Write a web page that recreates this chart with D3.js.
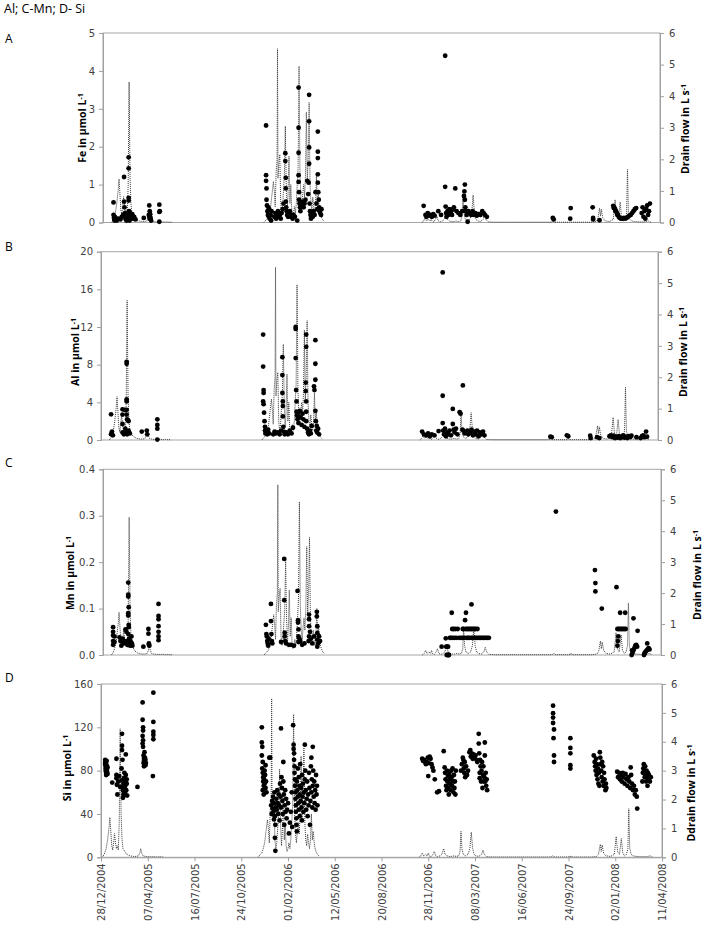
<!DOCTYPE html>
<html>
<head>
<meta charset="utf-8">
<script src="https://cdn.jsdelivr.net/npm/d3@7"></script>
<style>
  body { margin: 0; background: #fff; }
  svg { display: block; }
  .tick text { font-family: "DejaVu Sans", Verdana, sans-serif; font-size: 10px; fill: #404040; }
  .axis path, .axis line { stroke: #a0a0a0; }
  .ylab { font-family: "Open Sans", sans-serif; font-weight: bold; font-size: 10.5px; fill: #000; }
  .letter { font-family: "Open Sans", sans-serif; font-size: 12px; fill: #000; }
</style>
</head>
<body>
<script>
// days counted from 28/12/2004
const feData = [
  [7,0.53],[7,0.2],[8,0.12],[9,0.05],[10,0.15],[10,0.08],[12,0.1],[14,0.05],[18,0.1],[22,0.08],[25,0.15],[28,0.2],
  [30,1.2],[30,0.55],[31,0.4],[32,0.25],[33,0.1],[35,0.05],[36,0.2],[38,0.1],[40,1.72],[40,1.43],[40,0.65],[40,0.58],
  [41,0.3],[41,0.15],[42,0.05],[43,0.25],[44,0.2],[45,0.1],[46,0.15],[48,0.22],[50,0.1],[52,0.15],[55,0.08],
  [73,0.12],[84,0.2],[85,0.45],[85,0.15],[86,0.3],[86,0.1],[87,0.22],[88,0.12],[89,0.05],[107,0.47],[107,0.28],[107,0.02],[108,0.3],
  [340,2.56],[340,1.25],[340,1.1],[341,0.9],[341,0.6],[342,0.45],[343,0.3],[344,0.2],[345,0.4],[346,0.15],[347,0.35],[348,0.1],
  [350,0.2],[351,0.05],[352,0.3],[358,0.15],[360,0.25],[362,0.1],[364,0.2],[366,0.3],[368,0.15],[370,0.2],[372,0.1],[374,0.25],
  [376,0.35],[378,0.5],[382,1.83],[382,1.62],[383,1.18],[383,0.9],[383,0.55],[384,0.4],[385,0.3],[386,0.2],[388,0.15],[390,0.25],
  [392,0.3],[394,0.15],[396,0.2],[398,0.1],[400,0.2],[403,0.15],[408,0.05],[411,3.56],[411,2.5],[411,1.84],[411,1.25],[411,1.07],
  [412,0.8],[412,0.6],[413,0.5],[414,0.4],[415,0.3],[416,0.45],[418,0.5],[420,0.55],[422,0.4],[424,0.5],[426,0.6],[430,1.1],
  [432,0.75],[434,3.37],[434,2.67],[434,1.98],[434,1.55],[433,1.05],[435,0.5],[436,0.3],[437,0.2],[438,0.1],[440,0.25],[442,0.15],
  [444,0.3],[446,0.2],[448,0.8],[450,0.5],[452,0.35],[453,2.4],[453,1.87],[453,1.7],[453,1.27],[453,1.05],[454,0.8],[455,0.6],
  [456,0.4],[457,0.3],[458,0.25],[460,0.2],[461,0.35],
  [684,0.44],[688,0.2],[690,0.15],[693,0.25],[696,0.18],[699,0.2],[702,0.15],[705,0.22],[708,0.18],[716,0.3],[722,0.2],
  [731,4.4],[731,0.94],[732,0.42],[733,0.25],[734,0.15],[736,0.3],[738,0.2],[740,0.35],[742,0.25],[744,0.3],[746,0.2],[748,0.35],
  [750,0.4],[753,0.9],[756,0.3],[760,0.25],[764,0.2],[768,0.3],[772,0.7],[773,0.82],[774,1.0],[774,0.6],[775,0.4],[776,0.3],
  [778,0.2],[780,0.02],[782,0.3],[785,0.25],[788,0.2],[791,0.3],[794,0.2],[797,0.25],[800,0.18],[804,0.22],[808,0.2],[812,0.3],
  [815,0.25],[818,0.2],[822,0.15],
  [966,0.12],[968,0.08],[1004,0.1],[1005,0.38],[1053,0.4],[1054,0.12],[1054,0.08],[1068,0.06],
  [1098,0.44],[1099,0.38],[1100,0.4],[1102,0.35],[1103,0.3],[1104,0.3],[1106,0.25],[1107,0.2],[1108,0.2],[1110,0.15],[1112,0.12],
  [1115,0.1],[1118,0.1],[1121,0.12],[1124,0.1],[1127,0.12],[1130,0.15],[1133,0.18],[1136,0.2],[1139,0.25],[1142,0.3],[1145,0.35],
  [1148,0.38],[1160,0.25],[1162,0.4],[1164,0.15],[1166,0.3],[1168,0.1],[1170,0.35],[1172,0.45],[1174,0.2],[1176,0.3],[1178,0.5]
];

const alData = [
  [6,2.73],[7,0.7],[8,0.9],[6,0.6],[10,0.5],[31,3.26],[31,2.7],[31,1.7],[31,0.8],[34,0.6],[36,3.2],[37,1.2],[38,0.7],
  [40,8.3],[40,8.1],[40,4.3],[40,4.1],[40,3.2],[40,2.7],[41,2.2],[40,0.9],[41,0.6],[43,2.1],[44,2.0],[44,1.0],[45,0.8],[47,0.7],
  [73,0.9],[84,1.0],[85,0.6],[107,2.2],[107,1.6],[107,1.2],[107,0.05],
  [338,11.2],[338,7.8],[339,5.3],[339,5.0],[338,4.1],[339,3.8],[340,2.9],[341,2.0],[342,1.4],[342,1.0],[343,0.7],[345,0.8],
  [347,0.6],[349,1.1],[351,0.7],[360,0.6],[363,0.9],[366,0.7],[370,0.8],[374,0.6],[377,1.0],
  [380,8.8],[380,6.9],[380,5.0],[381,4.1],[381,3.6],[381,2.5],[382,1.4],[383,0.9],[385,0.6],[388,0.8],[392,0.6],[396,1.0],
  [400,0.7],[403,1.3],[409,12.0],[409,11.8],[409,8.7],[410,5.3],[411,4.1],[411,3.0],[412,2.6],[413,2.2],[414,2.9],[415,1.8],
  [416,2.5],[418,3.1],[420,2.4],[422,1.6],[424,2.8],[426,2.2],[428,1.4],[432,11.2],[432,9.9],[431,6.1],[431,5.2],[432,4.1],
  [432,3.0],[432,2.0],[434,1.2],[436,0.8],[438,0.6],[440,1.0],[442,0.7],[444,1.5],[449,5.7],[450,5.3],[452,10.6],[452,8.1],
  [452,6.4],[452,3.1],[453,2.0],[454,1.0],[455,1.5],[456,0.8],[458,1.2],[460,0.6],
  [685,0.9],[689,0.6],[694,0.5],[698,0.7],[702,0.4],[706,0.6],[712,0.5],[721,0.95],[730,17.8],[730,4.7],[730,1.8],[731,1.0],
  [733,0.6],[735,1.2],[737,0.4],[740,0.8],[742,0.6],[745,1.0],[748,0.5],[752,3.3],[752,1.7],[754,1.1],[756,0.8],[759,1.2],
  [762,0.6],[767,2.95],[769,2.8],[774,5.8],[773,1.1],[775,1.0],[778,0.7],[784,1.0],[786,0.6],[790,0.8],[793,1.1],[796,0.5],
  [799,0.9],[802,0.6],[805,1.0],[808,0.4],[811,0.8],[814,0.6],[818,0.9],[821,0.5],
  [965,0.35],[968,0.3],[1001,0.5],[1004,0.4],[1052,0.45],[1053,0.2],[1067,0.3],[1072,0.2],[1094,0.4],[1097,0.5],[1100,0.3],
  [1103,0.45],[1106,0.2],[1109,0.35],[1112,0.25],[1115,0.4],[1118,0.2],[1121,0.3],[1124,0.5],[1127,0.25],[1130,0.35],[1133,0.2],
  [1136,0.4],[1139,0.3],[1142,0.45],[1153,0.3],[1162,0.2],[1165,0.4],[1168,0.5],[1171,0.3],[1174,0.9],[1176,0.35]
];

const mnData = [
  [6,0.06],[6,0.05],[6,0.042],[6,0.03],[6,0.022],[9,0.04],[9,0.028],[20,0.038],[22,0.03],[24,0.02],[27,0.035],[29,0.025],
  [31,0.03],[33,0.055],[35,0.05],[36,0.03],[37,0.022],[39,0.156],[39,0.13],[39,0.126],[40,0.103],[39,0.09],[39,0.085],[40,0.065],
  [40,0.06],[39,0.045],[41,0.035],[42,0.025],[43,0.02],[44,0.03],[46,0.04],[47,0.025],[48,0.02],
  [72,0.018],[83,0.056],[83,0.046],[84,0.025],[84,0.022],[85,0.02],[105,0.11],[105,0.084],[105,0.077],[105,0.062],[105,0.05],
  [105,0.04],[105,0.032],
  [339,0.065],[340,0.045],[341,0.04],[342,0.03],[343,0.025],[344,0.02],[345,0.035],[350,0.11],[350,0.073],[351,0.045],[352,0.03],
  [353,0.025],[372,0.028],[379,0.207],[379,0.118],[380,0.048],[380,0.04],[381,0.03],[383,0.025],[389,0.022],[394,0.022],[400,0.02],
  [408,0.138],[409,0.075],[409,0.07],[410,0.055],[410,0.04],[410,0.028],[412,0.035],[414,0.03],[418,0.022],[423,0.025],[433,0.087],
  [433,0.077],[433,0.062],[433,0.04],[432,0.03],[435,0.05],[437,0.035],[440,0.025],[444,0.04],[450,0.093],[450,0.083],[451,0.062],
  [451,0.047],[451,0.033],[451,0.018],[453,0.025],[455,0.04],[457,0.03],
  [722,0.018],[731,0.036],[732,0.018],[733,0],[734,0.018],[735,0],[736,0.018],[737,0],[738,0],[740,0.037],[742,0.037],[744,0.091],
  [745,0.056],[746,0.037],[748,0.056],[750,0.037],[752,0.056],[754,0.037],[757,0.056],[760,0.037],[764,0.037],[768,0.056],[768,0.037],
  [770,0.056],[771,0.037],[773,0.075],[775,0.091],[775,0.056],[776,0.037],[778,0.056],[779,0.037],[781,0.056],[782,0.037],[784,0.056],
  [786,0.037],[787,0.109],[787,0.056],[789,0.037],[790,0.056],[792,0.037],[793,0.056],[795,0.037],[796,0.056],[798,0.037],[800,0.056],
  [801,0.037],[804,0.037],[807,0.037],[810,0.037],[813,0.037],[816,0.037],[819,0.037],[822,0.037],[825,0.037],
  [971,0.309],[1056,0.183],[1057,0.155],[1057,0.137],[1071,0.1],[1103,0.146],[1105,0.056],[1108,0.056],[1111,0.091],[1111,0.056],
  [1114,0.056],[1117,0.056],[1120,0.056],[1122,0.091],[1123,0.056],[1107,0.04],[1106,0.03],[1105,0.02],[1140,0.079],[1149,0.052],
  [1136,0.0],[1138,0.005],[1140,0.01],[1142,0.015],[1144,0.02],[1146,0.022],[1148,0.018],[1137,0.01],[1170,0.025],[1163,0.0],
  [1165,0.005],[1167,0.008],[1169,0.01],[1171,0.012],[1173,0.015],[1175,0.012],[1164,0.003]
];

const siData = [
  [9,90],[9,88],[9,86],[10,84],[10,82],[10,80],[11,78],[11,76],[12,89],[12,85],[12,81],[13,79],[14,83],[14,77],
  [24,69],[33,91],[33,76],[33,73],[34,67],[35,58],[37,70],[39,75],[41,65],
  [45,114],[45,103],[45,99],[46,90],[44,82],[45,71],[46,65],[47,62],[48,58],[47,55],[48,68],[49,73],[50,64],[50,78],[51,60],
  [52,66],[53,95],[53,76],[53,70],[52,58],[54,62],[55,68],[55,72],[56,57],[78,65],
  [89,143],[89,127],[90,120],[90,108],[90,102],[89,105],[91,94],[92,91],[91,87],[92,84],[92,89],[93,86],[94,92],[94,88],[95,85],
  [95,90],[96,87],[93,97],[90,117],[89,112],[112,152],[112,125],[112,116],[112,113],[112,109],[111,75],
  [344,120],[344,106],[345,102],[344,94],[346,88],[345,82],[346,78],[347,74],[347,70],[348,66],[346,62],[348,58],[349,72],[350,80],
  [350,68],[351,76],[352,64],[353,70],[354,60],[352,85],[360,92],[362,92],[364,48],[365,40],[366,52],[367,45],[368,56],[369,42],
  [370,35],[370,50],[371,60],[372,38],[372,18],[373,6],[373,30],[374,46],[375,54],[376,44],[377,62],[378,50],[379,40],[380,58],
  [381,48],[382,34],[383,68],[384,56],[385,119],[385,46],[386,74],[387,64],[388,52],[389,40],[390,88],[390,70],[391,58],[392,30],
  [393,48],[394,62],[395,42],[396,54],[397,36],[398,44],[400,50],[402,22],[404,32],[406,42],[408,60],[409,28],
  [411,122],[412,104],[412,100],[413,96],[413,90],[414,84],[414,78],[415,72],[415,66],[416,60],[416,54],[417,48],[417,42],[418,36],
  [418,30],[419,24],[419,70],[420,62],[421,82],[421,56],[422,50],[423,74],[423,44],[424,66],[425,38],[425,58],[426,86],[427,52],
  [428,64],[429,46],[430,76],[430,34],[431,56],[432,68],[433,42],[434,60],[435,50],[436,104],[436,72],[437,80],[438,62],[439,44],
  [440,54],[441,70],[442,38],[443,58],[444,48],[445,78],[446,64],[447,30],[448,52],[449,84],[450,92],[450,60],[451,72],[452,46],
  [453,102],[453,66],[454,80],[455,56],[456,70],[457,50],[458,62],[459,44],[460,76],[461,58],[462,66],[463,48],
  [687,91],[689,89],[691,90],[693,88],[695,86],[697,88],[699,92],[701,87],[703,93],[705,91],[707,86],[709,83],[711,80],[700,75],
  [714,72],[719,60],[723,61],[733,98],[735,83],[736,78],[737,72],[738,66],[739,62],[740,80],[741,70],[742,75],[743,64],[744,58],
  [745,77],[746,68],[747,72],[748,62],[749,80],[750,74],[751,66],[752,82],[753,70],[754,60],[755,76],[756,64],[757,70],[758,58],
  [759,80],[770,80],[772,86],[774,92],[775,90],[776,82],[777,78],[778,88],[779,74],[781,84],[783,76],[785,80],[788,97],[790,99],
  [791,93],[793,96],[795,91],[797,95],[799,92],[801,94],[803,90],[805,88],[808,114],[808,105],[809,96],[810,78],[810,73],[811,90],
  [812,84],[813,70],[814,80],[815,88],[816,64],[817,76],[818,84],[819,70],[820,74],[821,106],[821,94],[822,70],[823,78],[824,66],
  [825,72],[826,62],
  [967,140],[967,133],[967,129],[967,124],[969,118],[968,110],[969,94],[969,88],[1004,110],[1004,101],[1004,96],[1004,85],[1004,82],
  [1054,94],[1056,88],[1057,84],[1058,80],[1059,91],[1060,76],[1061,86],[1062,72],[1063,82],[1064,68],[1065,78],[1066,66],[1067,97],
  [1068,92],[1069,86],[1070,80],[1071,74],[1072,88],[1073,70],[1074,84],[1075,66],[1076,78],[1077,72],[1079,62],[1080,68],[1081,64],
  [1104,79],[1106,74],[1108,78],[1110,72],[1112,76],[1114,70],[1116,78],[1118,74],[1120,68],[1122,77],[1124,72],[1126,66],[1128,74],
  [1130,70],[1132,64],[1133,83],[1134,76],[1136,68],[1138,62],[1140,66],[1142,58],[1144,62],[1146,56],[1147,45],
  [1158,70],[1159,78],[1160,82],[1161,86],[1162,80],[1163,74],[1164,84],[1165,76],[1166,70],[1167,80],[1168,74],[1169,66],[1170,78],
  [1171,72],[1172,76],[1174,70],[1176,74]
];

// drain flow, L/s (null = no record)
const flowData = [
  [2,0],[5,0.05],[8,0.15],[11,0.3],[14,0.6],[17,1.0],[19,1.38],[21,0.9],[23,0.4],[25,0.25],[27,0.5],[29,0.82],[31,0.5],[33,0.3],
  [35,0.4],[37,0.25],[39,1.2],[41,4.45],[43,1.5],[45,0.6],[47,0.3],[49,0.25],[51,0.2],[54,0.12],[58,0.08],[62,0.05],[66,0.04],
  [70,0.03],[75,0.03],[80,0.05],[83,0.15],[85,0.3],[87,0.15],[90,0.05],[95,0.03],[100,0.02],[105,0.02],[110,0.02],[115,0.02],
  [120,0.01],[125,0.02],[130,0.01],[135,0.01],[136,null],
  [335,0],[338,0.05],[341,0.1],[344,0.15],[347,0.3],[350,0.5],[353,0.9],[356,1.3],[358,1.0],[360,0.5],[362,1.6],[364,2.0],[365,5.5],
  [366,1.4],[368,1.9],[370,2.15],[372,0.6],[374,0.3],[376,0.5],[378,1.0],[380,1.5],[382,3.05],[384,1.2],[386,0.4],[388,0.9],
  [390,2.1],[392,0.6],[394,1.2],[396,0.4],[398,0.2],[400,0.3],[402,0.5],[404,0.3],[406,0.6],[408,1.2],[410,1.8],[412,4.95],
  [414,1.57],[416,0.8],[418,0.5],[420,0.9],[422,1.2],[424,0.8],[426,1.5],[428,3.5],[430,1.3],[432,2.0],[434,3.8],[436,1.2],
  [438,0.6],[440,0.4],[442,0.8],[444,0.5],[446,0.3],[448,0.6],[450,1.5],[452,0.6],[454,0.9],[456,0.5],[458,0.3],[460,0.2],
  [463,0.1],[466,0.05],[467,null],
  [680,0],[684,0.05],[687,0.15],[690,0.05],[694,0.1],[698,0.05],[700,0.15],[702,0.05],[706,0.02],[710,0.1],[713,0.2],[716,0.05],
  [720,0.02],[725,0.05],[729,0.1],[733,0.3],[736,0.1],[740,0.05],[745,0.03],[750,0.03],[755,0.05],[760,0.03],[765,0.05],[768,0.2],
  [770,0.9],[772,0.3],[775,0.1],[780,0.05],[785,0.1],[789,0.3],[792,0.87],[795,0.3],[798,0.1],[802,0.05],[808,0.03],[814,0.1],
  [817,0.25],[820,0.1],[825,0.02],[835,0.01],[850,0.01],[870,0.01],[890,0.01],[910,0.01],[930,0.01],[950,0.01],[963,0.01],
  [966,0.06],[969,0.01],[985,0.01],[1003,0.01],[1004,0.06],[1006,0.01],[1030,0.01],[1050,0.01],[1060,0.03],[1064,0.1],[1068,0.45],
  [1070,0.2],[1072,0.42],[1075,0.15],[1080,0.05],[1090,0.03],[1098,0.1],[1102,0.72],[1105,0.2],[1109,0.1],[1113,0.65],[1116,0.15],
  [1120,0.05],[1124,0.1],[1127,0.3],[1129,1.68],[1131,0.3],[1134,0.1],[1138,0.05],[1145,0.03],[1155,0.02],[1165,0.02],[1175,0.05],
  [1180,0.01]
];

const feTicks = [0, 1, 2, 3, 4, 5];
const alTicks = [0, 4, 8, 12, 16, 20];
const mnTicks = [0, 0.1, 0.2, 0.3, 0.4];
const siTicks = [0, 40, 80, 120, 160];
const flowTicks = [0, 1, 2, 3, 4, 5, 6];
const dateTicks = ['28/12/2004', '07/04/2005', '16/07/2005', '24/10/2005', '01/02/2006', '12/05/2006', '20/08/2006',
  '28/11/2006', '08/03/2007', '16/06/2007', '24/09/2007', '02/01/2008', '11/04/2008'];

const parseDate = d3.utcParse('%d/%m/%Y');
const base = parseDate('28/12/2004');
const end = parseDate('11/04/2008');
const toDate = d => d3.utcDay.offset(base, d);

const panels = [
  {letter: 'A', data: feData, ticks: feTicks, fmt: d3.format('d'), name: 'Fe  in µmol L', flowName: 'Drain flow in L s',
   left: 103, right: 660, top: 33, bottom: 222.5, start: -16, letterY: 43, ylx: 82, yly: 128, yrx: 685, yry: 129},
  {letter: 'B', data: alData, ticks: alTicks, fmt: d3.format('d'), name: 'Al in µmol L', flowName: 'Drain flow in L s',
   left: 101, right: 658, top: 251.7, bottom: 440, start: -16, letterY: 251, ylx: 75, yly: 352, yrx: 683, yry: 352},
  {letter: 'C', data: mnData, ticks: mnTicks, fmt: d3.format('.1f'), name: 'Mn in µmol L', flowName: 'Drain flow in L s',
   left: 103, right: 661, top: 469.3, bottom: 655, start: -16, letterY: 467, ylx: 70, yly: 573, yrx: 697, yry: 575},
  {letter: 'D', data: siData, ticks: siTicks, fmt: d3.format('d'), name: 'Si  in µmol L', flowName: 'Ddrain flow in L s',
   left: 101, right: 662, top: 684, bottom: 857.3, start: 0, letterY: 682, ylx: 67, yly: 768, yrx: 691, yry: 793, dates: true}
];

const svg = d3.select('body').append('svg')
    .attr('width', 714)
    .attr('height', 930);

svg.append('text')
    .attr('class', 'letter')
    .attr('x', 4)
    .attr('y', 13)
    .style('font-size', '12.5px')
    .text('Al; C-Mn; D- Si');

const addLabel = (g, x, y, name) => {
    const t = g.append('text')
        .attr('class', 'ylab')
        .attr('transform', 'translate(' + x + ',' + y + ') rotate(-90)')
        .attr('text-anchor', 'middle')
        .attr('dy', '0.35em');
    t.append('tspan').text(name);
    t.append('tspan').attr('dy', '-0.45em').style('font-size', '7px').text('-1');
};

panels.forEach(p => {
    const g = svg.append('g');
    const max = p.ticks[p.ticks.length - 1];

    const x = d3.scaleUtc()
        .domain([toDate(p.start), end])
        .range([p.left, p.right]);
    const y = d3.scaleLinear()
        .domain([0, max])
        .range([p.bottom, p.top]);
    const yFlow = d3.scaleLinear()
        .domain([0, 6])
        .range([p.bottom, p.top]);

    // plot area frame
    g.append('rect')
        .attr('x', p.left)
        .attr('y', p.top)
        .attr('width', p.right - p.left)
        .attr('height', p.bottom - p.top)
        .attr('fill', 'none')
        .attr('stroke', '#a6a6a6');

    // drain flow
    const line = d3.line()
        .defined(d => d[1] !== null)
        .x(d => x(toDate(d[0])))
        .y(d => yFlow(d[1]));
    g.append('path')
        .datum(flowData)
        .attr('d', line)
        .attr('fill', 'none')
        .attr('stroke', '#3a3a3a')
        .attr('stroke-width', 1)
        .attr('stroke-dasharray', '1,1');

    // concentrations
    g.selectAll('.dot')
        .data(p.data)
        .enter().append('circle')
        .attr('class', 'dot')
        .attr('cx', d => x(toDate(d[0])))
        .attr('cy', d => y(d[1]))
        .attr('r', 2.4)
        .attr('fill', '#000');

    g.append('g')
        .attr('class', 'axis')
        .attr('transform', 'translate(' + p.left + ',0)')
        .call(d3.axisLeft(y).tickValues(p.ticks).tickFormat(p.fmt).tickSize(4).tickPadding(4));

    g.append('g')
        .attr('class', 'axis')
        .attr('transform', 'translate(' + p.right + ',0)')
        .call(d3.axisRight(yFlow).tickValues(flowTicks).tickFormat(d3.format('d')).tickSize(4).tickPadding(5));

    if (p.dates) {
        g.append('g')
            .attr('class', 'axis')
            .attr('transform', 'translate(0,' + p.bottom + ')')
            .call(d3.axisBottom(x).tickValues(dateTicks.map(parseDate)).tickFormat(d3.utcFormat('%d/%m/%Y')).tickSize(4))
            .selectAll('text')
            .attr('x', -6)
            .attr('y', 0)
            .attr('dy', '0.35em')
            .attr('transform', 'rotate(-90)')
            .style('text-anchor', 'end');
    }

    g.append('text')
        .attr('class', 'letter')
        .attr('x', 5)
        .attr('y', p.letterY)
        .text(p.letter);

    addLabel(g, p.ylx, p.yly, p.name);
    addLabel(g, p.yrx, p.yry, p.flowName);
});
</script>
</body>
</html>
